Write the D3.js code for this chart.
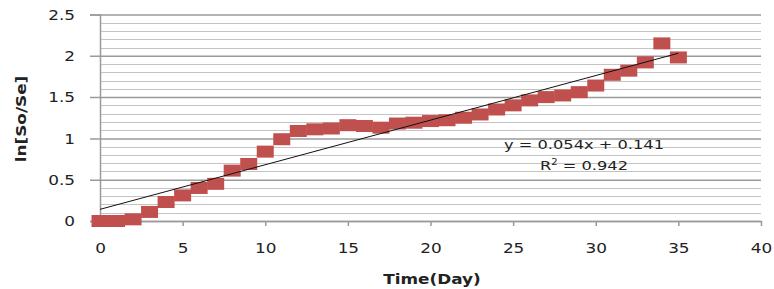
<!DOCTYPE html>
<meta charset="utf-8">
<style>
body { margin: 0; background: white; }
text { font-family: "DejaVu Sans", Verdana, sans-serif; fill: #222; }
.grid line { shape-rendering: crispEdges; }
</style>
<script src="https://d3js.org/d3.v7.min.js"></script>
<body>
<script>
const days = [0, 1, 2, 3, 4, 5, 6, 7, 8, 9, 10, 11, 12, 13, 14, 15, 16, 17,
  18, 19, 20, 21, 22, 23, 24, 25, 26, 27, 28, 29, 30, 31, 32, 33, 34, 35];
const lnRatio = [0, 0, 0.02, 0.11, 0.23, 0.31, 0.40, 0.45, 0.61, 0.69, 0.84, 0.99,
  1.09, 1.11, 1.12, 1.16, 1.15, 1.13, 1.18, 1.19, 1.21, 1.22, 1.25, 1.29,
  1.35, 1.40, 1.46, 1.50, 1.52, 1.56, 1.64, 1.77, 1.82, 1.92, 2.15, 1.98];
const xTicks = [0, 5, 10, 15, 20, 25, 30, 35, 40];
const yTicks = [0, 0.5, 1, 1.5, 2, 2.5];
const slope = 0.054, intercept = 0.141, rSquared = 0.942;

const W = 774, H = 289;
const x = d3.scaleLinear().domain([0, 40]).range([100, 761]);
const y = d3.scaleLinear().domain([0, 2.5]).range([221, 14.5]);
const sx = 1.25; // text in the picture is stretched sideways

const svg = d3.select('body').append('svg')
  .attr('width', W).attr('height', H);

// minor gridlines every 0.1
const minor = d3.range(0, 2.51, 0.1).map(v => +v.toFixed(1)).filter(v => !yTicks.includes(v));
svg.append('g').attr('class', 'grid')
  .selectAll('line').data(minor).enter().append('line')
    .attr('x1', x(0)).attr('x2', x(40))
    .attr('y1', d => Math.round(y(d)) + 0.5).attr('y2', d => Math.round(y(d)) + 0.5)
    .attr('stroke', '#c4c4c4');

// major gridlines + y axis
const yAxis = svg.append('g')
  .attr('transform', `translate(${x(0)},0)`)
  .call(d3.axisLeft(y).tickValues(yTicks).tickSize(10).tickFormat(d3.format('')));
yAxis.select('.domain').attr('stroke', '#9a9a9a').attr('stroke-width', 1.5);
yAxis.selectAll('.tick line').attr('stroke', '#9a9a9a').attr('stroke-width', 1.5)
  .attr('x2', -10).attr('x1', x(40) - x(0));
yAxis.selectAll('.tick text')
  .attr('x', -25 / sx).attr('dy', '0.36em')
  .attr('transform', `scale(${sx},1)`)
  .style('font-size', '13.5px');

// x axis
const xAxis = svg.append('g')
  .attr('transform', `translate(0,${y(0)})`)
  .call(d3.axisBottom(x).tickValues(xTicks).tickSize(5).tickSizeOuter(0));
xAxis.select('.domain').attr('stroke', '#9a9a9a').attr('stroke-width', 1.5);
xAxis.selectAll('.tick line').attr('stroke', '#9a9a9a').attr('stroke-width', 1.5);
xAxis.selectAll('.tick text')
  .attr('y', 32).attr('dy', 0)
  .attr('transform', `scale(${sx},1)`)
  .attr('x', 0)
  .style('font-size', '13.5px');
// keep labels centred on tick after scaling
xAxis.selectAll('.tick').each(function() {
  const t = d3.select(this).select('text');
  t.attr('transform', `scale(${sx},1)`);
});

// markers
svg.append('g').selectAll('rect').data(days).enter().append('rect')
  .attr('x', (d, i) => x(d) - 8.5)
  .attr('y', (d, i) => y(lnRatio[i]) - 6)
  .attr('width', 17).attr('height', 12)
  .attr('fill', '#c0504d');

// linear trendline
svg.append('line')
  .attr('x1', x(0)).attr('y1', y(intercept))
  .attr('x2', x(35)).attr('y2', y(slope * 35 + intercept))
  .attr('stroke', '#111').attr('stroke-width', 1);

// equation
const eq = svg.append('g').attr('transform', 'translate(584,0)');
eq.append('text').attr('transform', `translate(0,149) scale(${sx},1)`)
  .attr('text-anchor', 'middle').style('font-size', '13px')
  .text(`y = ${slope}x + ${intercept}`);
const r2 = eq.append('text').attr('transform', `translate(0,170) scale(${sx},1)`)
  .attr('text-anchor', 'middle').style('font-size', '13px');
r2.append('tspan').text('R');
r2.append('tspan').attr('dy', -5).style('font-size', '8px').text('2');
r2.append('tspan').attr('dy', 5).text(` = ${rSquared}`);

// axis titles
svg.append('text')
  .attr('transform', `translate(432,284) scale(${sx},1)`)
  .attr('text-anchor', 'middle')
  .style('font-size', '13.5px').style('font-weight', 'bold')
  .text('Time(Day)');
svg.append('text')
  .attr('transform', `translate(26,119) rotate(-90) scale(${sx},1)`)
  .attr('text-anchor', 'middle')
  .style('font-size', '13.5px').style('font-weight', 'bold')
  .text('ln[So/Se]');
</script>
</body>
</html>
